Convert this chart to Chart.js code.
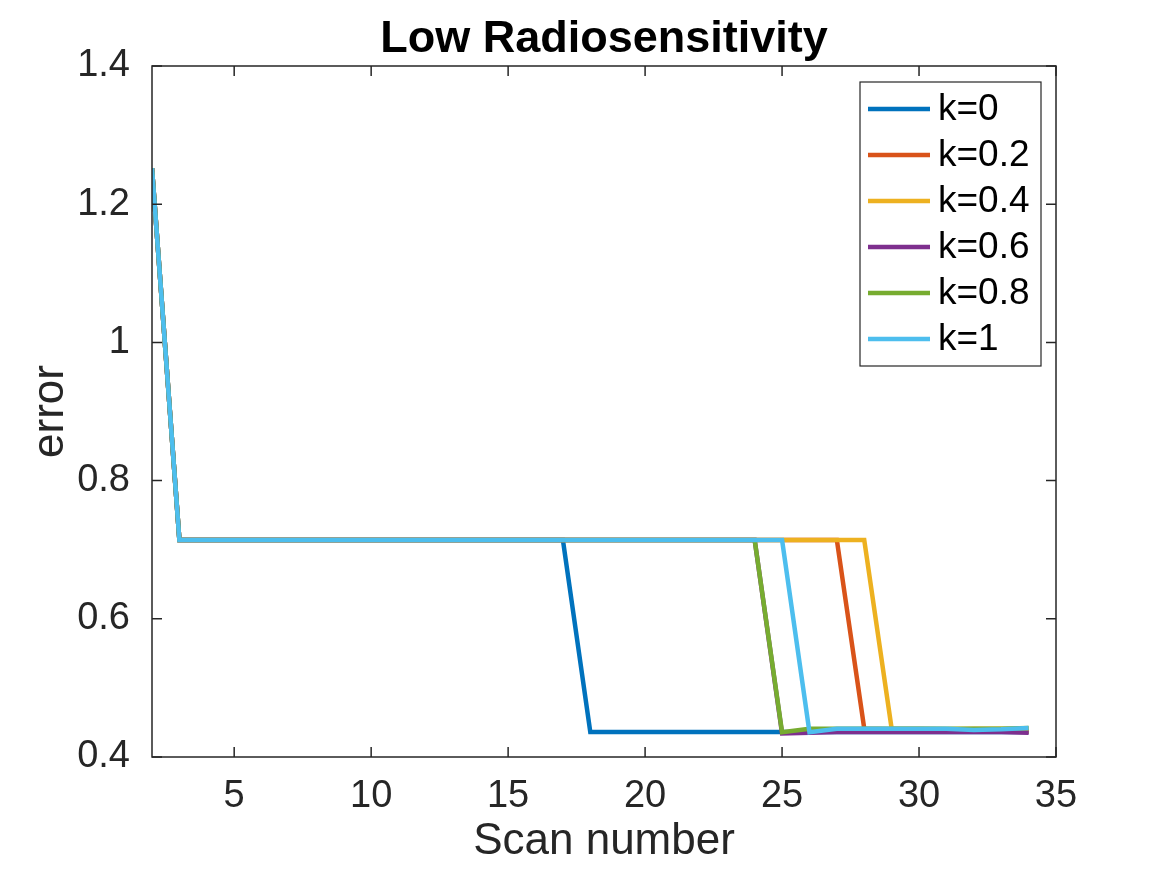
<!DOCTYPE html>
<html>
<head>
<meta charset="utf-8">
<script src="https://cdn.jsdelivr.net/npm/chart.js@4/dist/chart.umd.min.js"></script>
<style>
  html, body { margin: 0; padding: 0; background: #fff; }
  #wrap { width: 1167px; height: 875px; }
</style>
</head>
<body>
<div id="wrap"><canvas id="grafico" width="1167" height="875"></canvas></div>
<script>
const scans = [2, 3, 4, 5, 6, 7, 8, 9, 10, 11, 12, 13, 14, 15, 16, 17, 18, 19, 20, 21, 22, 23, 24, 25, 26, 27, 28, 29, 30, 31, 32, 33, 34];

const k0 = [1.252, 0.714, 0.714, 0.714, 0.714, 0.714, 0.714, 0.714, 0.714, 0.714, 0.714, 0.714, 0.714, 0.714, 0.714, 0.714,
    0.436, 0.436, 0.436, 0.436, 0.436, 0.436, 0.436, 0.436, 0.436, 0.436, 0.436, 0.436, 0.436, 0.436, 0.436, 0.436, 0.436];
const k02 = [1.252, 0.714, 0.714, 0.714, 0.714, 0.714, 0.714, 0.714, 0.714, 0.714, 0.714, 0.714, 0.714, 0.714, 0.714, 0.714,
    0.714, 0.714, 0.714, 0.714, 0.714, 0.714, 0.714, 0.714, 0.714, 0.714, 0.441, 0.440, 0.439, 0.438, 0.437, 0.437, 0.437];
const k04 = [1.252, 0.714, 0.714, 0.714, 0.714, 0.714, 0.714, 0.714, 0.714, 0.714, 0.714, 0.714, 0.714, 0.714, 0.714, 0.714,
    0.714, 0.714, 0.714, 0.714, 0.714, 0.714, 0.714, 0.714, 0.714, 0.714, 0.714, 0.441, 0.441, 0.440, 0.441, 0.441, 0.441];
const k06 = [1.252, 0.714, 0.714, 0.714, 0.714, 0.714, 0.714, 0.714, 0.714, 0.714, 0.714, 0.714, 0.714, 0.714, 0.714, 0.714,
    0.714, 0.714, 0.714, 0.714, 0.714, 0.714, 0.714, 0.434, 0.435, 0.436, 0.436, 0.436, 0.436, 0.436, 0.436, 0.436, 0.435];
const k08 = [1.252, 0.714, 0.714, 0.714, 0.714, 0.714, 0.714, 0.714, 0.714, 0.714, 0.714, 0.714, 0.714, 0.714, 0.714, 0.714,
    0.714, 0.714, 0.714, 0.714, 0.714, 0.714, 0.714, 0.436, 0.441, 0.441, 0.441, 0.441, 0.441, 0.441, 0.441, 0.441, 0.442];
const k1 = [1.252, 0.714, 0.714, 0.714, 0.714, 0.714, 0.714, 0.714, 0.714, 0.714, 0.714, 0.714, 0.714, 0.714, 0.714, 0.714,
    0.714, 0.714, 0.714, 0.714, 0.714, 0.714, 0.714, 0.714, 0.436, 0.441, 0.441, 0.441, 0.441, 0.441, 0.439, 0.440, 0.442];

const rotulos = ['k=0', 'k=0.2', 'k=0.4', 'k=0.6', 'k=0.8', 'k=1'];
const series = [k0, k02, k04, k06, k08, k1];
const cores = ['#0072BD', '#D95319', '#EDB120', '#7E2F8E', '#77AC30', '#4DBEEE'];

const xTicks = [5, 10, 15, 20, 25, 30, 35];
const yTicks = [0.4, 0.6, 0.8, 1, 1.2, 1.4];
const titulo = 'Low Radiosensitivity';

const FONTE = '"Liberation Sans", Arial, Helvetica, sans-serif';
const CINZA = '#262626';

// caixa com ticks para dentro nos quatro lados, título centrado no eixo e legenda dentro
const caixaPlugin = {
    id: 'caixa',
    afterDatasetsDraw(chart) {
        const { ctx, chartArea: a, scales } = chart;
        ctx.save();
        ctx.strokeStyle = CINZA;
        ctx.lineWidth = 1.5;
        ctx.strokeRect(a.left, a.top, a.right - a.left, a.bottom - a.top);
        const t = 10;
        ctx.beginPath();
        xTicks.forEach(v => {
            const px = scales.x.getPixelForValue(v);
            ctx.moveTo(px, a.bottom); ctx.lineTo(px, a.bottom - t);
            ctx.moveTo(px, a.top); ctx.lineTo(px, a.top + t);
        });
        yTicks.forEach(v => {
            const py = scales.y.getPixelForValue(v);
            ctx.moveTo(a.left, py); ctx.lineTo(a.left + t, py);
            ctx.moveTo(a.right, py); ctx.lineTo(a.right - t, py);
        });
        ctx.stroke();

        // título
        ctx.fillStyle = '#000';
        ctx.font = 'bold 45px ' + FONTE;
        ctx.textAlign = 'center';
        ctx.textBaseline = 'alphabetic';
        ctx.fillText(titulo, (a.left + a.right) / 2, a.top - 14);

        // legenda
        const w = 181, h = 284;
        const lx = a.right - 15 - w, ly = a.top + 16;
        ctx.fillStyle = '#fff';
        ctx.fillRect(lx, ly, w, h);
        ctx.lineWidth = 1.2;
        ctx.strokeRect(lx, ly, w, h);
        ctx.font = '37px ' + FONTE;
        ctx.textBaseline = 'middle';
        ctx.textAlign = 'left';
        chart.data.datasets.forEach((ds, i) => {
            const cy = ly + 27 + i * 46;
            ctx.strokeStyle = ds.borderColor;
            ctx.lineWidth = 4.5;
            ctx.beginPath();
            ctx.moveTo(lx + 8, cy); ctx.lineTo(lx + 70, cy);
            ctx.stroke();
            ctx.fillStyle = '#000';
            ctx.fillText(ds.label, lx + 78, cy + 1);
        });
        ctx.restore();
    }
};

new Chart(document.getElementById('grafico').getContext('2d'), {
    type: 'line',
    data: {
        labels: scans,
        datasets: series.map((s, i) => ({
            label: rotulos[i],
            data: s.map((v, j) => ({ x: scans[j], y: v })),
            borderColor: cores[i],
            backgroundColor: cores[i],
            borderWidth: 4.5,
            pointRadius: 0,
            tension: 0,
            fill: false,
            order: series.length - i
        }))
    },
    options: {
        responsive: false,
        animation: false,
        layout: { padding: { left: 0, right: 111, top: 66, bottom: 0 } },
        plugins: {
            legend: { display: false },
            tooltip: { enabled: false },
            title: { display: false }
        },
        scales: {
            x: {
                type: 'linear',
                min: 2, max: 35,
                grid: { display: false },
                border: { display: false },
                afterBuildTicks: s => { s.ticks = xTicks.map(v => ({ value: v })); },
                afterFit: s => { s.height = 118; },
                ticks: { color: CINZA, font: { family: FONTE, size: 38 }, padding: 9, maxRotation: 0, autoSkip: false },
                title: {
                    display: true, text: 'Scan number', color: CINZA,
                    font: { family: FONTE, size: 44, lineHeight: 1.2 },
                    padding: { top: 0, bottom: 7 }
                }
            },
            y: {
                min: 0.4, max: 1.4,
                grid: { display: false },
                border: { display: false },
                afterBuildTicks: s => { s.ticks = yTicks.map(v => ({ value: v })); },
                afterFit: s => { s.width = 152; },
                ticks: { color: CINZA, font: { family: FONTE, size: 38 }, padding: 14, autoSkip: false,
                    callback: v => String(Math.round(v * 10) / 10) },
                title: {
                    display: true, text: 'error', color: CINZA,
                    font: { family: FONTE, size: 44, lineHeight: 1.2 },
                    padding: { top: 24, bottom: 0 }
                }
            }
        }
    },
    plugins: [caixaPlugin]
});
</script>
</body>
</html>
